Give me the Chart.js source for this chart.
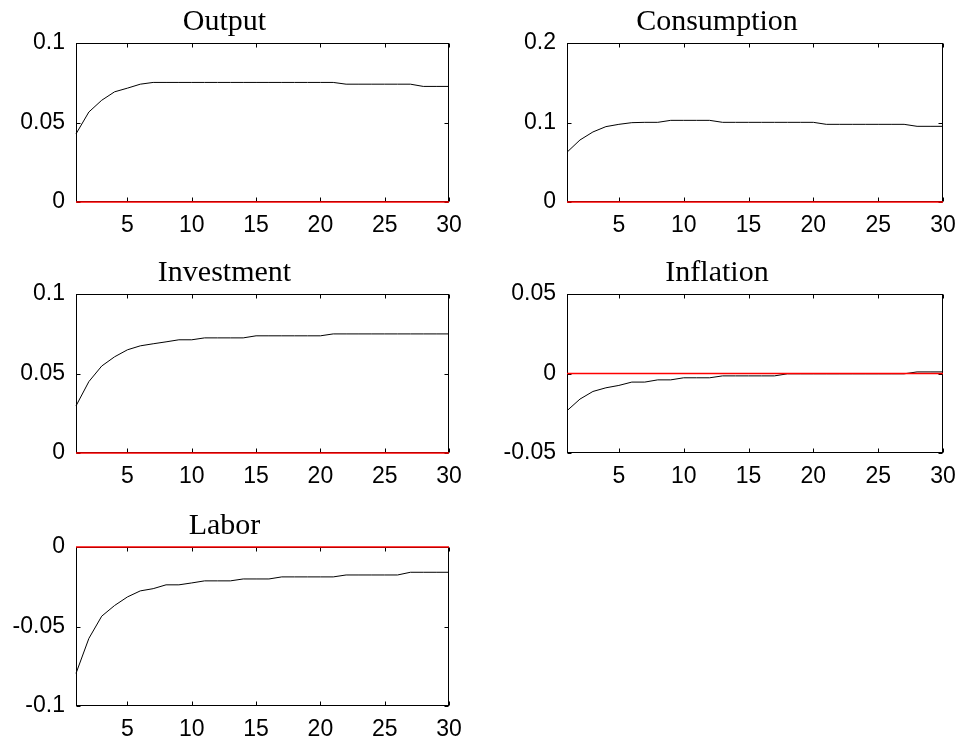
<!DOCTYPE html>
<html>
<head>
<meta charset="utf-8">
<script src="https://cdn.jsdelivr.net/npm/chart.js@4/dist/chart.umd.min.js"></script>
<style>
  html, body { margin: 0; background: #fff; }
  #page { position: relative; width: 960px; height: 740px; overflow: hidden; background: #fff; }
  #page canvas { position: absolute; }
</style>
</head>
<body>
<div id="page">
  <canvas id="cOutput"      width="491" height="250" style="left:0;top:0"></canvas>
  <canvas id="cConsumption" width="469" height="250" style="left:491px;top:0"></canvas>
  <canvas id="cInvestment"  width="491" height="250" style="left:0;top:251px"></canvas>
  <canvas id="cInflation"   width="469" height="250" style="left:491px;top:251px"></canvas>
  <canvas id="cLabor"       width="491" height="250" style="left:0;top:504px"></canvas>
</div>
<script>
// impulse responses, periods 1..30
const periods = [1, 2, 3, 4, 5, 6, 7, 8, 9, 10, 11, 12, 13, 14, 15,
                 16, 17, 18, 19, 20, 21, 22, 23, 24, 25, 26, 27, 28, 29, 30]

const output = [0.0428, 0.0566, 0.0640, 0.0693, 0.0716, 0.0741, 0.0752, 0.0752, 0.0752, 0.0752,
                0.0752, 0.0752, 0.0752, 0.0752, 0.0752, 0.0752, 0.0752, 0.0752, 0.0752, 0.0752,
                0.0752, 0.0741, 0.0741, 0.0741, 0.0741, 0.0741, 0.0741, 0.0727, 0.0727, 0.0727]

const consumption = [0.0626, 0.0780, 0.0881, 0.0948, 0.0977, 0.0998, 0.1002, 0.1002, 0.1027, 0.1027,
                     0.1027, 0.1027, 0.1002, 0.1002, 0.1002, 0.1002, 0.1002, 0.1002, 0.1002, 0.1002,
                     0.0977, 0.0977, 0.0977, 0.0977, 0.0977, 0.0977, 0.0977, 0.0952, 0.0952, 0.0952]

const investment = [0.0296, 0.0449, 0.0547, 0.0605, 0.0649, 0.0674, 0.0687, 0.0699, 0.0712, 0.0712,
                    0.0724, 0.0724, 0.0724, 0.0724, 0.0737, 0.0737, 0.0737, 0.0737, 0.0737, 0.0737,
                    0.0749, 0.0749, 0.0749, 0.0749, 0.0749, 0.0749, 0.0749, 0.0749, 0.0749, 0.0749]

const inflation = [-0.0234, -0.0161, -0.0113, -0.0090, -0.0075, -0.0054, -0.0054, -0.0040, -0.0040, -0.0027,
                   -0.0027, -0.0027, -0.0015, -0.0015, -0.0015, -0.0015, -0.0015, -0.0002, -0.0002, -0.0002,
                   -0.0002, -0.0002, -0.0002, -0.0002, -0.0002, -0.0002, -0.0002, 0.0010, 0.0010, 0.0010]

const labor = [-0.0795, -0.0575, -0.0435, -0.0368, -0.0314, -0.0276, -0.0262, -0.0238, -0.0238, -0.0226,
               -0.0213, -0.0213, -0.0213, -0.0201, -0.0201, -0.0201, -0.0188, -0.0188, -0.0188, -0.0188,
               -0.0188, -0.0176, -0.0176, -0.0176, -0.0176, -0.0176, -0.0159, -0.0159, -0.0159, -0.0159]

const steadyState = 0

const xTicks           = [5, 10, 15, 20, 25, 30]
const yTicksOutput     = [0, 0.05, 0.1]
const yTicksConsump    = [0, 0.1, 0.2]
const yTicksInvestment = [0, 0.05, 0.1]
const yTicksInflation  = [-0.05, 0, 0.05]
const yTicksLabor      = [-0.1, -0.05, 0]

const TICK_LEN = 4

// MATLAB style box with inward ticks on all four sides
const boxFrame = {
  id: 'boxFrame',
  beforeDatasetsDraw(chart) {
    const { ctx, chartArea: a, scales: { x, y } } = chart
    const L = Math.round(a.left) + 0.5
    const R = Math.round(a.right) - 0.5
    const T = Math.round(a.top) + 0.5
    const B = Math.round(a.bottom) - 0.5
    ctx.save()
    ctx.strokeStyle = '#000'
    ctx.lineWidth = 1
    ctx.beginPath()
    x.ticks.forEach(t => {
      const px = Math.round(x.getPixelForValue(t.value)) + 0.5
      ctx.moveTo(px, B); ctx.lineTo(px, B - TICK_LEN)
      ctx.moveTo(px, T); ctx.lineTo(px, T + TICK_LEN)
    })
    y.ticks.forEach(t => {
      const py = Math.round(y.getPixelForValue(t.value)) + 0.5
      ctx.moveTo(L, py); ctx.lineTo(L + TICK_LEN, py)
      ctx.moveTo(R, py); ctx.lineTo(R - TICK_LEN, py)
    })
    ctx.stroke()
    ctx.strokeRect(L, T, R - L, B - T)
    ctx.restore()
  }
}

function makePanel(id, title, series, yTicks, padRight) {
  const toPoints = vals => periods.map((p, i) => ({ x: p, y: vals[i] }))
  new Chart(document.getElementById(id).getContext('2d'), {
    type: 'line',
    data: {
      datasets: [
        {
          data: toPoints(periods.map(() => steadyState)),
          borderColor: '#ff0000',
          borderWidth: 1.6,
          pointRadius: 0,
          clip: false
        },
        {
          data: toPoints(series),
          borderColor: '#000000',
          borderWidth: 1,
          pointRadius: 0,
          tension: 0,
          clip: false
        }
      ]
    },
    options: {
      responsive: false,
      animation: false,
      events: [],
      layout: { padding: { left: 0, right: padRight, top: 0, bottom: 0 } },
      plugins: {
        legend: { display: false },
        tooltip: { enabled: false },
        title: {
          display: true,
          text: title,
          color: '#000',
          font: { family: 'Liberation Serif', size: 30, weight: 'normal', lineHeight: 1.2 },
          padding: { top: 4, bottom: 3 }
        }
      },
      scales: {
        x: {
          type: 'linear',
          min: periods[0],
          max: periods[periods.length - 1],
          grid: { display: false, drawTicks: false },
          border: { display: false },
          afterBuildTicks: axis => { axis.ticks = xTicks.map(v => ({ value: v })) },
          afterFit: axis => { axis.height = 48; axis.paddingLeft = 0; axis.paddingRight = 0 },
          ticks: {
            color: '#000',
            font: { family: 'Liberation Sans', size: 23 },
            padding: 10,
            maxRotation: 0,
            autoSkip: false,
            callback: v => String(v)
          }
        },
        y: {
          min: yTicks[0],
          max: yTicks[yTicks.length - 1],
          grid: { display: false, drawTicks: false },
          border: { display: false },
          afterBuildTicks: axis => { axis.ticks = yTicks.map(v => ({ value: v })) },
          afterFit: axis => { axis.width = 76; axis.paddingTop = 0; axis.paddingBottom = 0 },
          ticks: {
            color: '#000',
            font: { family: 'Liberation Sans', size: 23 },
            padding: 11,
            autoSkip: false,
            callback: v => String(v)
          }
        }
      }
    },
    plugins: [boxFrame]
  })
}

makePanel('cOutput',      'Output',      output,      yTicksOutput,     42)
makePanel('cConsumption', 'Consumption', consumption, yTicksConsump,    17)
makePanel('cInvestment',  'Investment',  investment,  yTicksInvestment, 42)
makePanel('cInflation',   'Inflation',   inflation,   yTicksInflation,  17)
makePanel('cLabor',       'Labor',       labor,       yTicksLabor,      42)
</script>
</body>
</html>
